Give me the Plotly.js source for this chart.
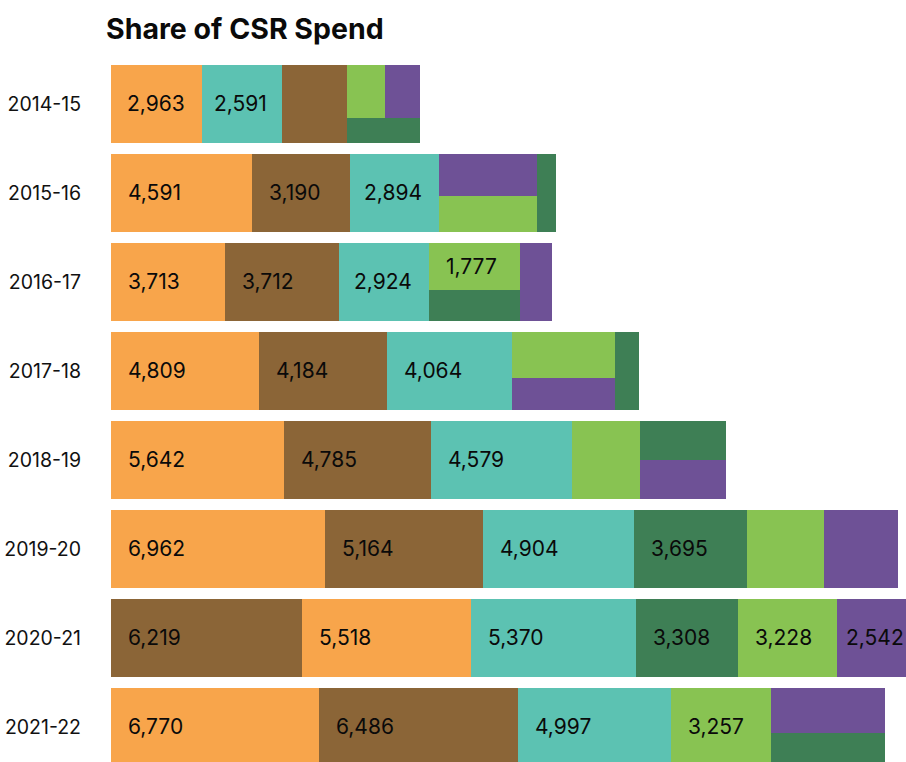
<!DOCTYPE html>
<html>
<head>
<meta charset="utf-8">
<script src="https://cdn.plot.ly/plotly-3.0.1.min.js"></script>
<style>
  html, body { margin: 0; padding: 0; background: #fff; }
  #chart { width: 906px; height: 762px; }
</style>
</head>
<body>
<div id="chart"></div>
<script>
// ---------- data ----------
const years = ['2014-15', '2015-16', '2016-17', '2017-18', '2018-19', '2019-20', '2020-21', '2021-22'];

const education   = [2963, 4591, 3713, 4809, 5642, 6962, 5518, 6770];
const health      = [2117, 3190, 3712, 4184, 4785, 5164, 6219, 6486];
const rural       = [2591, 2894, 2924, 4064, 4579, 4904, 5370, 4997];
const environment = [773, 619, 1187, 782, 1389, 3695, 3308, 1548];
const poverty     = [861, 1454, 1777, 1979, 2225, 2508, 3228, 3257];
const other       = [766, 1748, 1042, 1376, 1412, 2400, 2542, 2165];

// which values carry a printed label, per year
const labelled = [
  ['E', 'R'],
  ['E', 'H', 'R'],
  ['E', 'H', 'R', 'P'],
  ['E', 'H', 'R'],
  ['E', 'H', 'R'],
  ['E', 'H', 'R', 'V'],
  ['E', 'H', 'R', 'V', 'P', 'O'],
  ['E', 'H', 'R', 'P']
];

// tile order per year: columns -> strips (top to bottom) -> categories (left to right)
const tiling = [
  [[['E']], [['R']], [['H']], [['P', 'O'], ['V']]],
  [[['E']], [['H']], [['R']], [['O'], ['P']], [['V']]],
  [[['E']], [['H']], [['R']], [['P'], ['V']], [['O']]],
  [[['E']], [['H']], [['R']], [['P'], ['O']], [['V']]],
  [[['E']], [['H']], [['R']], [['P']], [['V'], ['O']]],
  [[['E']], [['H']], [['R']], [['V']], [['P']], [['O']]],
  [[['H']], [['E']], [['R']], [['V']], [['P']], [['O']]],
  [[['E']], [['H']], [['R']], [['P']], [['O'], ['V']]]
];

// ---------- styling ----------
const cats = {
  E: { name: 'Education', vals: education, color: '#F8A54B' },
  H: { name: 'Health care', vals: health, color: '#8B6537' },
  R: { name: 'Rural development', vals: rural, color: '#5CC2B2' },
  V: { name: 'Environment', vals: environment, color: '#3E7F55' },
  P: { name: 'Poverty & hunger', vals: poverty, color: '#88C352' },
  O: { name: 'Other', vals: other, color: '#6E5196' }
};

const FONT = 'Inter, "DejaVu Sans", sans-serif';
const LABEL_SIZE = 21;
const BAR_H = 0.873;          // row thickness in y units
const X_MAX = 25896;          // visible value range
const PLOT_W = 906 - 111;
const PAD = 18;
const ANN_INNER = 3;          // annotation's own inner padding

const canvas = document.createElement('canvas');
const ctx = canvas.getContext('2d');
ctx.font = LABEL_SIZE + 'px Inter';

const traces = {};
Object.keys(cats).forEach(k => {
  traces[k] = {
    type: 'bar', orientation: 'h', name: cats[k].name,
    x: [], base: [], y: [], width: [],
    marker: { color: cats[k].color, line: { width: 0 } },
    hoverinfo: 'skip', showlegend: false
  };
});
const annotations = [];

tiling.forEach((cols, yi) => {
  let cum = 0;
  cols.forEach(col => {
    const colTotal = col.reduce((s, strip) => s + strip.reduce((a, k) => a + cats[k].vals[yi], 0), 0);
    let top = yi - BAR_H / 2;
    col.forEach(strip => {
      const stripTotal = strip.reduce((a, k) => a + cats[k].vals[yi], 0);
      const h = BAR_H * stripTotal / colTotal;
      let left = cum;
      strip.forEach(k => {
        const v = cats[k].vals[yi];
        const w = colTotal * v / stripTotal;
        const t = traces[k];
        t.x.push(w); t.base.push(left); t.y.push(top + h / 2); t.width.push(h);
        if (labelled[yi].includes(k)) {
          const txt = v.toLocaleString('en-US');
          const wPx = w / X_MAX * PLOT_W;
          const tw = ctx.measureText(txt).width;
          const shift = Math.min(PAD, (wPx - tw) / 2) - ANN_INNER;
          annotations.push({
            x: left, y: top + h / 2, xref: 'x', yref: 'y',
            text: txt, showarrow: false, xanchor: 'left', yanchor: 'middle',
            xshift: shift, font: { family: FONT, size: LABEL_SIZE, color: '#0a0a0a' }
          });
        }
        left += w;
      });
      top += h;
    });
    cum += colTotal;
  });
});

const layout = {
  width: 906, height: 762,
  margin: { l: 111, r: 0, t: 55, b: 0 },
  paper_bgcolor: '#fff', plot_bgcolor: '#fff',
  barmode: 'overlay', bargap: 0,
  showlegend: false,
  title: {
    text: '<b>Share of CSR Spend</b>',
    font: { family: FONT, size: 28.5, color: '#0a0a0a' },
    xref: 'container', yref: 'container',
    x: 106 / 906, xanchor: 'left',
    y: 1 - 29 / 762, yanchor: 'middle'
  },
  xaxis: { range: [0, X_MAX], visible: false, fixedrange: true },
  yaxis: {
    range: [7.395, -0.549],
    tickvals: years.map((_, i) => i), ticktext: years,
    tickfont: { family: FONT, size: 19.5, color: '#111' },
    showgrid: false, zeroline: false, showline: false, ticks: '',
    ticklabelstandoff: 29, fixedrange: true
  },
  annotations: annotations
};

Plotly.newPlot('chart', Object.values(traces), layout, { displayModeBar: false, staticPlot: true });
</script>
</body>
</html>
